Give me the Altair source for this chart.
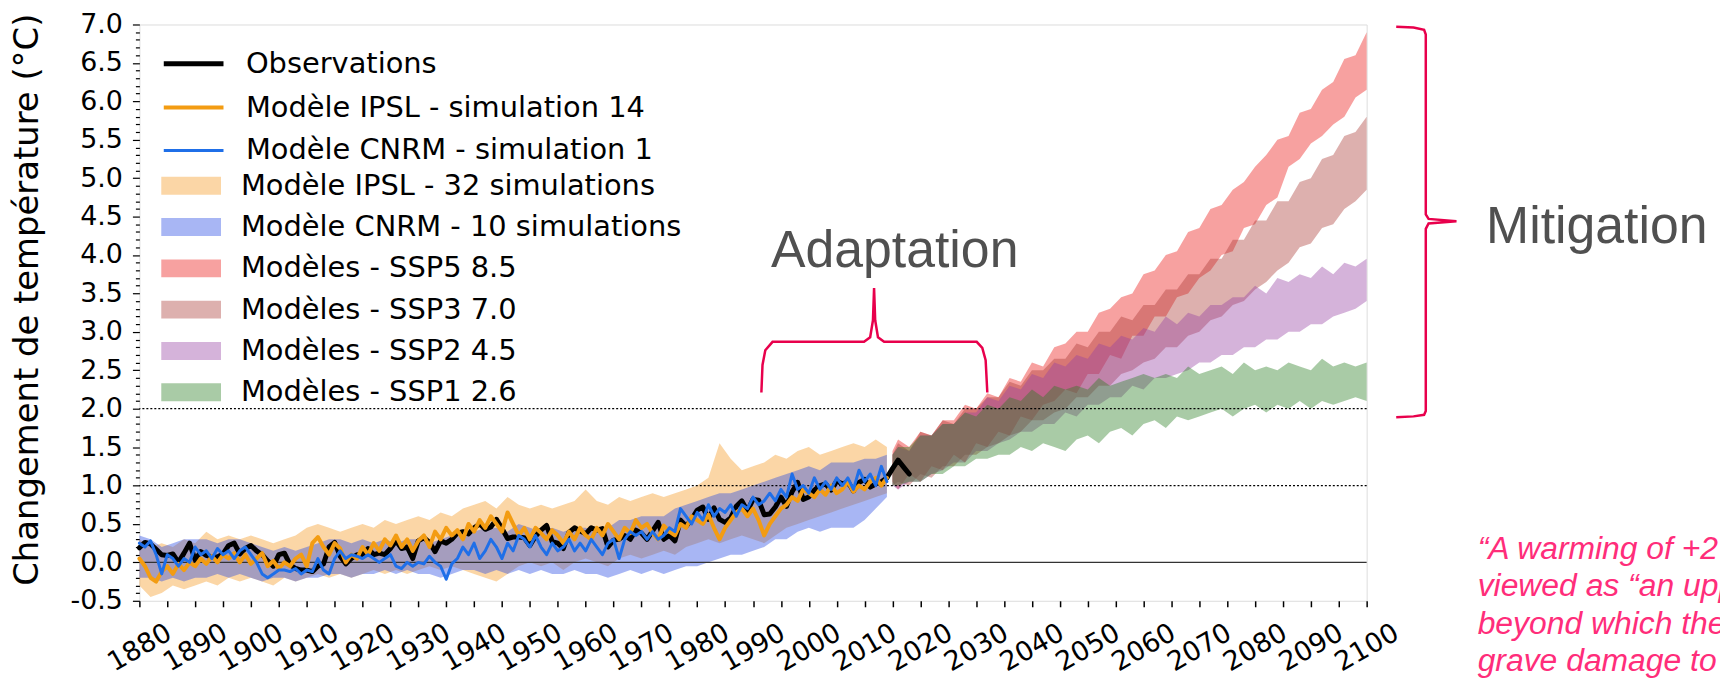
import altair as alt
import pandas as pd

# ------------------------------------------------------------------ data
obs_years = list(range(1880, 2019))
obs_vals = [
    0.19, 0.26, 0.24, 0.17, 0.10, 0.09, 0.11, 0.00, 0.12, 0.25,
    0.03, 0.14, 0.09, 0.07, 0.07, 0.11, 0.22, 0.25, 0.11, 0.18,
    0.22, 0.15, 0.10, 0.02, -0.05, 0.10, 0.12, -0.03, -0.08, -0.10,
    -0.10, -0.12, -0.05, -0.02, 0.20, 0.26, 0.08, -0.02, 0.05, 0.10,
    0.10, 0.18, 0.10, 0.12, 0.10, 0.18, 0.28, 0.18, 0.20, 0.05,
    0.28, 0.32, 0.26, 0.14, 0.28, 0.25, 0.30, 0.38, 0.40, 0.37,
    0.45, 0.50, 0.43, 0.46, 0.56, 0.44, 0.31, 0.33, 0.33, 0.32,
    0.22, 0.34, 0.42, 0.48, 0.27, 0.25, 0.18, 0.39, 0.45, 0.41,
    0.37, 0.45, 0.42, 0.44, 0.20, 0.29, 0.30, 0.35, 0.30, 0.42,
    0.38, 0.30, 0.41, 0.52, 0.30, 0.35, 0.28, 0.55, 0.47, 0.56,
    0.68, 0.72, 0.56, 0.71, 0.56, 0.52, 0.58, 0.73, 0.80, 0.67,
    0.82, 0.81, 0.62, 0.63, 0.72, 0.85, 0.73, 0.92, 1.04, 0.82,
    0.85, 0.94, 1.00, 1.02, 0.94, 1.06, 1.02, 1.05, 0.93, 1.04,
    1.08, 0.98, 1.02, 1.05, 1.10, 1.22, 1.33, 1.24, 1.15,
]

sim_years = list(range(1880, 2015))
ipsl14_vals = [
    0.05, -0.05, -0.20, -0.25, -0.12, -0.05, -0.15, -0.02, -0.10, 0.00,
    -0.05, 0.05, -0.02, 0.08, 0.00, 0.10, 0.05, 0.12, 0.00, 0.10,
    -0.02, 0.05, 0.12, -0.05, 0.02, -0.08, 0.00, -0.05, 0.05, 0.10,
    -0.05, 0.25, 0.33, 0.20, 0.10, 0.25, 0.18, 0.00, 0.10, 0.05,
    0.20, 0.10, 0.25, 0.15, 0.30, 0.22, 0.35, 0.20, 0.30, 0.15,
    0.28, 0.35, 0.20, 0.40, 0.30, 0.45, 0.35, 0.42, 0.30, 0.50,
    0.40, 0.55, 0.45, 0.60, 0.50, 0.40, 0.65, 0.50, 0.35, 0.45,
    0.30, 0.45, 0.38, 0.30, 0.42, 0.35, 0.25, 0.40, 0.30, 0.45,
    0.35, 0.30, 0.45, 0.35, 0.50, 0.40, 0.30, 0.45, 0.38, 0.55,
    0.45, 0.50, 0.38, 0.30, 0.48, 0.40, 0.35, 0.50, 0.45, 0.60,
    0.55, 0.50, 0.62, 0.45, 0.30, 0.45, 0.55, 0.65, 0.70, 0.60,
    0.70, 0.55, 0.35, 0.50, 0.60, 0.70, 0.75, 0.85, 0.80, 0.95,
    0.90, 0.85, 0.95, 0.88, 1.00, 0.90, 0.95, 1.05, 0.92, 1.00,
    0.95, 1.05, 1.10, 1.00, 1.10,
]
cnrm1_vals = [
    0.25, 0.20, 0.28, 0.10, -0.15, 0.10, 0.05, -0.05, 0.05, 0.00,
    0.20, 0.10, 0.15, 0.05, 0.18, 0.10, 0.15, 0.05, 0.15, 0.20,
    0.10, 0.00, -0.15, -0.20, -0.15, -0.10, -0.10, -0.12, -0.08, -0.15,
    -0.10, -0.12, 0.05, -0.10, -0.15, 0.05, 0.15, 0.05, 0.10, 0.08,
    0.05, 0.10, 0.05, 0.00, 0.05, 0.10, -0.05, -0.08, 0.00, -0.05,
    0.00, -0.02, 0.08, 0.00, -0.05, -0.22, -0.02, 0.05, 0.20, 0.10,
    0.25, 0.05, 0.15, 0.30, 0.20, 0.05, 0.25, 0.15, 0.35, 0.30,
    0.20, 0.35, 0.20, 0.10, 0.25, 0.15, 0.20, 0.30, 0.15, 0.25,
    0.15, 0.30, 0.20, 0.10, 0.25, 0.30, 0.05, 0.30, 0.40, 0.35,
    0.40, 0.30, 0.40, 0.30, 0.35, 0.45, 0.40, 0.70, 0.60, 0.50,
    0.65, 0.55, 0.75, 0.60, 0.70, 0.65, 0.75, 0.60, 0.75, 0.70,
    0.85, 0.75, 0.80, 0.90, 0.80, 0.95, 0.85, 1.15, 0.95, 1.00,
    0.90, 1.10, 0.95, 1.05, 0.95, 1.10, 1.00, 1.10, 0.95, 1.20,
    1.05, 1.15, 1.00, 1.25, 1.05,
]

hist_band_years = list(range(1880, 2015, 2))
ipsl32_lo = [
    -0.30, -0.45, -0.40, -0.30, -0.35, -0.30, -0.25, -0.30, -0.20, -0.25,
    -0.20, -0.25, -0.30, -0.20, -0.25, -0.20, -0.15, -0.20, -0.15, -0.20,
    -0.15, -0.10, -0.15, -0.10, -0.15, -0.10, -0.05, -0.10, -0.05, -0.10,
    -0.15, -0.20, -0.25, -0.15, -0.05, 0.00, -0.05, 0.00, -0.10, 0.00,
    0.05, 0.00, -0.05, 0.05, 0.10, 0.05, 0.10, 0.15, 0.10, 0.20,
    0.25, 0.30, 0.25, 0.30, 0.35, 0.30, 0.25, 0.35, 0.45, 0.50,
    0.55, 0.60, 0.65, 0.70, 0.75, 0.80, 0.85, 0.90,
]
ipsl32_hi = [
    0.30, 0.20, 0.25, 0.20, 0.30, 0.25, 0.40, 0.30, 0.35, 0.30,
    0.35, 0.30, 0.25, 0.30, 0.35, 0.45, 0.50, 0.45, 0.40, 0.45,
    0.50, 0.45, 0.55, 0.50, 0.55, 0.60, 0.55, 0.65, 0.60, 0.70,
    0.75, 0.80, 0.70, 0.85, 0.75, 0.70, 0.75, 0.70, 0.75, 0.80,
    0.95, 0.80, 0.75, 0.85, 0.80, 0.85, 0.90, 0.85, 0.90, 0.95,
    1.00, 1.10, 1.55, 1.35, 1.20, 1.25, 1.30, 1.40, 1.35, 1.45,
    1.50, 1.40, 1.45, 1.50, 1.55, 1.50, 1.60, 1.50,
]
cnrm10_lo = [
    -0.20, -0.20, -0.25, -0.20, -0.25, -0.20, -0.20, -0.15, -0.20, -0.15,
    -0.20, -0.25, -0.20, -0.20, -0.25, -0.20, -0.20, -0.15, -0.15, -0.20,
    -0.15, -0.15, -0.10, -0.15, -0.10, -0.15, -0.15, -0.20, -0.15, -0.10,
    -0.10, -0.15, -0.10, -0.15, -0.10, -0.15, -0.10, -0.15, -0.15, -0.10,
    -0.15, -0.15, -0.20, -0.15, -0.10, -0.15, -0.10, -0.15, -0.10, -0.05,
    -0.05, 0.00, 0.05, 0.10, 0.10, 0.15, 0.20, 0.30, 0.30, 0.40,
    0.45, 0.40, 0.45, 0.45, 0.45, 0.55, 0.70, 0.85,
]
cnrm10_hi = [
    0.35, 0.30, 0.20, 0.25, 0.30, 0.30, 0.30, 0.25, 0.30, 0.30,
    0.25, 0.20, 0.15, 0.20, 0.15, 0.20, 0.25, 0.30, 0.30, 0.25,
    0.30, 0.25, 0.30, 0.25, 0.30, 0.30, 0.25, 0.30, 0.35, 0.40,
    0.40, 0.45, 0.45, 0.40, 0.50, 0.45, 0.40, 0.45, 0.40, 0.45,
    0.45, 0.40, 0.45, 0.55, 0.55, 0.60, 0.60, 0.60, 0.70, 0.75,
    0.80, 0.85, 0.90, 0.90, 0.95, 1.00, 1.05, 1.10, 1.15, 1.20,
    1.25, 1.20, 1.30, 1.30, 1.30, 1.35, 1.35, 1.40,
]

proj_years = [2015] + list(range(2016, 2101, 2))
ssp585_lo = [1.05, 0.95, 1.15, 1.05, 1.25, 1.20, 1.40, 1.30, 1.55, 1.50, 1.70, 1.65, 1.90, 1.85, 2.05,
             2.10, 2.25, 2.20, 2.45, 2.45, 2.70, 2.65, 2.95, 2.95, 3.20, 3.20, 3.45, 3.50, 3.70, 3.80,
             4.00, 4.05, 4.35, 4.40, 4.65, 4.75, 5.15, 5.25, 5.45, 5.55, 5.70, 5.80, 6.05, 6.15]
ssp585_hi = [1.45, 1.60, 1.50, 1.70, 1.65, 1.85, 1.85, 2.05, 2.00, 2.20, 2.15, 2.40, 2.35, 2.60, 2.55,
             2.80, 2.85, 3.00, 3.00, 3.25, 3.30, 3.45, 3.50, 3.75, 3.80, 4.00, 4.05, 4.30, 4.35, 4.60,
             4.65, 4.85, 4.95, 5.15, 5.30, 5.50, 5.55, 5.85, 5.90, 6.15, 6.25, 6.55, 6.60, 6.90]
ssp370_lo = [1.00, 1.05, 1.00, 1.15, 1.10, 1.25, 1.25, 1.40, 1.40, 1.50, 1.55, 1.65, 1.70, 1.85, 1.85,
             1.95, 2.00, 2.15, 2.15, 2.30, 2.30, 2.45, 2.50, 2.60, 2.65, 2.80, 2.80, 2.95, 3.00, 3.15,
             3.20, 3.35, 3.40, 3.55, 3.65, 3.80, 3.90, 4.10, 4.15, 4.35, 4.40, 4.60, 4.70, 4.85]
ssp370_hi = [1.40, 1.55, 1.45, 1.70, 1.65, 1.85, 1.80, 2.00, 2.00, 2.15, 2.15, 2.35, 2.30, 2.50, 2.50,
             2.65, 2.65, 2.85, 2.80, 3.00, 3.00, 3.20, 3.15, 3.35, 3.35, 3.55, 3.55, 3.75, 3.75, 3.95,
             3.95, 4.20, 4.20, 4.45, 4.45, 4.70, 4.70, 4.95, 5.00, 5.25, 5.30, 5.55, 5.60, 5.80]
ssp245_lo = [1.00, 0.95, 1.05, 1.05, 1.15, 1.20, 1.30, 1.30, 1.45, 1.45, 1.55, 1.60, 1.70, 1.70, 1.80,
             1.80, 1.95, 1.90, 2.05, 2.05, 2.15, 2.15, 2.30, 2.25, 2.40, 2.40, 2.45, 2.50, 2.60, 2.60,
             2.70, 2.70, 2.80, 2.80, 2.90, 2.90, 3.00, 3.00, 3.10, 3.10, 3.20, 3.25, 3.30, 3.40]
ssp245_hi = [1.40, 1.50, 1.45, 1.65, 1.65, 1.80, 1.80, 1.95, 1.95, 2.15, 2.10, 2.30, 2.25, 2.45, 2.40,
             2.60, 2.55, 2.70, 2.65, 2.85, 2.80, 2.95, 2.90, 3.05, 3.00, 3.20, 3.10, 3.25, 3.20, 3.35,
             3.35, 3.45, 3.45, 3.60, 3.50, 3.70, 3.65, 3.75, 3.70, 3.85, 3.75, 3.90, 3.85, 3.95]
ssp126_lo = [1.00, 1.00, 1.05, 1.05, 1.15, 1.15, 1.25, 1.25, 1.35, 1.35, 1.40, 1.40, 1.50, 1.45, 1.55,
             1.50, 1.45, 1.60, 1.65, 1.55, 1.70, 1.75, 1.65, 1.80, 1.85, 1.75, 1.90, 1.85, 1.90, 1.95,
             2.00, 1.90, 2.00, 2.05, 1.95, 2.05, 2.00, 2.10, 2.00, 2.10, 2.05, 2.10, 2.15, 2.10]
ssp126_hi = [1.40, 1.50, 1.50, 1.65, 1.65, 1.80, 1.80, 1.95, 1.90, 2.05, 2.00, 2.15, 2.10, 2.25, 2.15,
             2.30, 2.25, 2.30, 2.25, 2.40, 2.30, 2.35, 2.40, 2.45, 2.40, 2.45, 2.40, 2.55, 2.45, 2.50,
             2.55, 2.45, 2.60, 2.50, 2.55, 2.50, 2.60, 2.55, 2.50, 2.65, 2.55, 2.60, 2.55, 2.60]

line_names = ["Observations", "Modèle IPSL - simulation 14", "Modèle CNRM - simulation 1"]
line_colors = ["#000000", "#f39c12", "#1f6fe8"]
line_widths = [5, 3, 3]

band_names = ["Modèle IPSL - 32 simulations", "Modèle CNRM - 10 simulations",
              "Modèles - SSP5 8.5", "Modèles - SSP3 7.0", "Modèles - SSP2 4.5", "Modèles - SSP1 2.6"]
band_colors = ["#f59820", "#2548e3", "#eb1411", "#aa3934", "#9641a2", "#287d20"]

x_ticks = list(range(1880, 2101, 5))
y_ticks = [round(-0.5 + 0.1 * i, 1) for i in range(76)]

# annotation braces (in data units: year, °C)
adapt_brace_x = [1991.5, 1991.7, 1992.2, 1993.5, 2009.9, 2011.0, 2011.5, 2011.7,
                 2011.9, 2012.4, 2013.5, 2030.1, 2031.1, 2031.7, 2032.0]
adapt_brace_y = [2.21, 2.57, 2.76, 2.87, 2.87, 2.93, 3.15, 3.57,
                 3.15, 2.93, 2.87, 2.87, 2.79, 2.63, 2.21]
mitig_brace_x = [2105.3, 2108.4, 2110.3, 2110.6, 2110.6, 2111.1, 2116.1, 2111.1,
                 2110.6, 2110.6, 2110.3, 2108.4, 2105.3]
mitig_brace_y = [6.97, 6.96, 6.93, 6.87, 4.53, 4.47, 4.44, 4.41,
                 4.34, 1.97, 1.92, 1.90, 1.89]

quote_lines = ["\u201cA warming of +2\u00b0C is now seen",
               "viewed as \u201can upper limit\u201d",
               "beyond which the risks of",
               "grave damage to ecosystems"]
quote_y = [0.04, -0.44, -0.93, -1.42]

# ------------------------------------------------------------------ tables
lines_df = pd.concat([
    pd.DataFrame({"year": obs_years, "value": obs_vals, "series": line_names[0]}),
    pd.DataFrame({"year": sim_years, "value": ipsl14_vals, "series": line_names[1]}),
    pd.DataFrame({"year": sim_years, "value": cnrm1_vals, "series": line_names[2]}),
], ignore_index=True)

bands_df = pd.concat([
    pd.DataFrame({"year": hist_band_years, "lo": ipsl32_lo, "hi": ipsl32_hi, "series": band_names[0]}),
    pd.DataFrame({"year": hist_band_years, "lo": cnrm10_lo, "hi": cnrm10_hi, "series": band_names[1]}),
    pd.DataFrame({"year": proj_years, "lo": ssp585_lo, "hi": ssp585_hi, "series": band_names[2]}),
    pd.DataFrame({"year": proj_years, "lo": ssp370_lo, "hi": ssp370_hi, "series": band_names[3]}),
    pd.DataFrame({"year": proj_years, "lo": ssp245_lo, "hi": ssp245_hi, "series": band_names[4]}),
    pd.DataFrame({"year": proj_years, "lo": ssp126_lo, "hi": ssp126_hi, "series": band_names[5]}),
], ignore_index=True)

brace_df = pd.concat([
    pd.DataFrame({"x": adapt_brace_x, "y": adapt_brace_y, "id": "adapt",
                  "k": list(range(len(adapt_brace_x)))}),
    pd.DataFrame({"x": mitig_brace_x, "y": mitig_brace_y, "id": "mitig",
                  "k": list(range(len(mitig_brace_x)))}),
], ignore_index=True)

rules_df = pd.DataFrame({"y": [0.0]})
dotted_df = pd.DataFrame({"y": [1.0, 2.0]})
adapt_df = pd.DataFrame({"x": [2015.4], "y": [3.84], "t": ["Adaptation"]})
mitig_df = pd.DataFrame({"x": [2121.4], "y": [4.16], "t": ["Mitigation"]})
quote_df = pd.DataFrame({"x": [2119.9] * 4, "y": quote_y, "t": quote_lines})

# ------------------------------------------------------------------ chart
FONT = "DejaVu Sans"
XS = alt.Scale(domain=[1880, 2100], nice=False, zero=False)
YS = alt.Scale(domain=[-0.5, 7.0], nice=False, zero=False)

x_axis = alt.Axis(
    values=x_ticks, title=None, grid=False, domain=False,
    labelExpr="datum.value % 10 == 0 ? format(datum.value, 'd') : ''",
    labelAngle=330, labelAlign="center", labelBaseline="middle",
    labelPadding=41, labelFlush=False, labelOverlap=False,
    labelFont=FONT, labelFontSize=27, labelColor="black",
    tickSize=6, tickWidth=1.5, tickColor="black",
)
y_axis = alt.Axis(
    values=y_ticks, grid=False, domain=False,
    labelExpr="abs(datum.value * 2 - round(datum.value * 2)) < 0.001 ? "
              "(datum.value < 0 ? '-' : '') + format(abs(datum.value), '.1f') : ''",
    labelFlush=False, labelOverlap=False, labelPadding=10,
    labelFont=FONT, labelFontSize=27, labelColor="black",
    tickSize={"condition": {"test": "abs(datum.value * 2 - round(datum.value * 2)) < 0.001",
                            "value": 7}, "value": 4},
    tickWidth=1.2, tickColor="black",
    title="Changement de température (°C)", titleFont=FONT, titleFontSize=34,
    titleFontWeight="normal", titleColor="black", titleAngle=270,
    titleX=-102, titleY=276, titleBaseline="alphabetic", titleAlign="center",
)


def X(field):
    return alt.X(field, type="quantitative", scale=XS, axis=x_axis)


def Y(field):
    return alt.Y(field, type="quantitative", scale=YS, axis=y_axis)


band_legend = alt.Legend(
    title=None, orient="none", legendX=37, legendY=147,
    symbolType="M-2,-0.6H2V0.6H-2Z", symbolSize=900, symbolOpacity=0.4,
    symbolStrokeWidth=0, labelFont=FONT, labelFontSize=29, labelColor="black",
    labelOffset=35, rowPadding=11.5, labelLimit=1000, padding=0,
)
line_legend = alt.Legend(
    title=None, orient="none", legendX=37, legendY=22,
    symbolType="M-2,0L2,0", symbolSize=900,
    labelFont=FONT, labelFontSize=29, labelColor="black",
    labelOffset=35, rowPadding=11.5, labelLimit=1000, padding=0,
)

fill_enc = alt.Fill("series:N", scale=alt.Scale(domain=band_names, range=band_colors),
                    legend=band_legend)
stroke_enc = alt.Stroke("series:N", scale=alt.Scale(domain=line_names, range=line_colors),
                        legend=line_legend)
width_enc = alt.StrokeWidth("series:N", scale=alt.Scale(domain=line_names, range=line_widths),
                            legend=line_legend)

layers = []
for name in band_names:
    layers.append(
        alt.Chart(bands_df).transform_filter(alt.datum.series == name)
        .mark_area(opacity=0.4, interpolate="linear")
        .encode(x=X("year"), y=Y("lo"), y2="hi:Q", fill=fill_enc)
    )

layers.append(
    alt.Chart(rules_df).mark_rule(color="#333333", strokeWidth=1.3)
    .encode(y=Y("y"))
)
layers.append(
    alt.Chart(dotted_df).mark_rule(color="black", strokeWidth=1.2, strokeDash=[2, 2])
    .encode(y=Y("y"))
)

for name in line_names:
    layers.append(
        alt.Chart(lines_df).transform_filter(alt.datum.series == name)
        .mark_line(strokeJoin="round", strokeCap="round")
        .encode(x=X("year"), y=Y("value"), stroke=stroke_enc, strokeWidth=width_enc)
    )

layers.append(
    alt.Chart(brace_df).mark_line(color="#e8004c", strokeWidth=2.5, clip=False)
    .encode(x=X("x"), y=Y("y"), detail="id:N", order="k:Q")
)
layers.append(
    alt.Chart(adapt_df).mark_text(font="Liberation Sans", fontSize=52, color="#505050",
                                  align="center", baseline="alphabetic", clip=False)
    .encode(x=X("x"), y=Y("y"), text="t:N")
)
layers.append(
    alt.Chart(mitig_df).mark_text(font="Liberation Sans", fontSize=52, color="#505050",
                                  align="left", baseline="alphabetic", clip=False)
    .encode(x=X("x"), y=Y("y"), text="t:N")
)
layers.append(
    alt.Chart(quote_df).mark_text(font="Liberation Sans", fontSize=32, fontStyle="italic",
                                  color="#ff2d7a", align="left", baseline="alphabetic", clip=False)
    .encode(x=X("x"), y=Y("y"), text="t:N")
)

chart = (
    alt.layer(*layers)
    .properties(
        width=1233, height=579,
        autosize=alt.AutoSizeParams(type="none"),
        padding={"left": 132, "top": 15, "right": 355, "bottom": 76},
        background="white",
    )
    .configure_view(stroke="#1a1a1a", strokeWidth=1.6)
    .configure(font=FONT)
)

chart.save("out.html", embed_options={"renderer": "svg", "actions": False})
